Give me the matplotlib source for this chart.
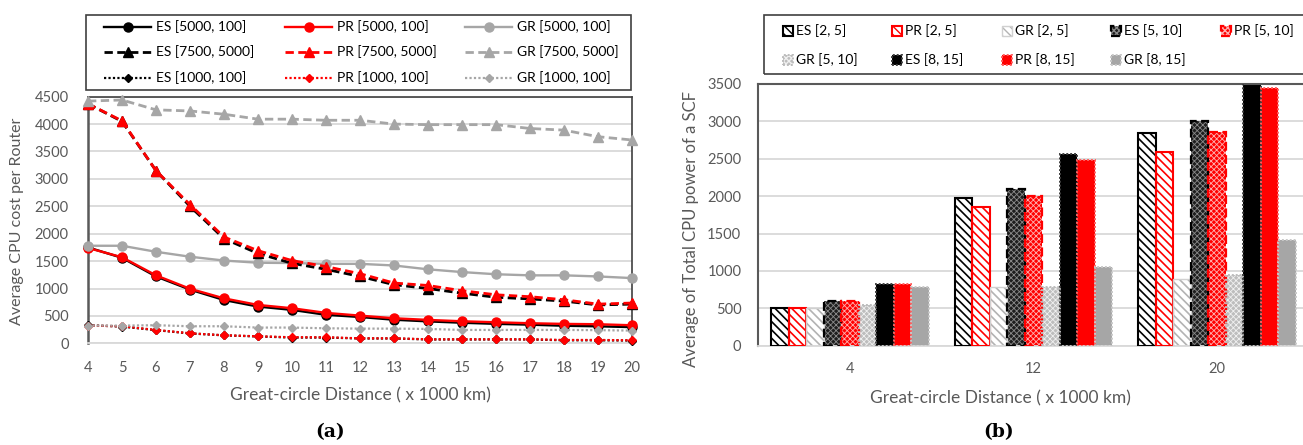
import matplotlib
matplotlib.use("Agg")
import matplotlib.pyplot as plt
from matplotlib.patches import Rectangle

# ---------------- data ----------------
distance = [4, 5, 6, 7, 8, 9, 10, 11, 12, 13, 14, 15, 16, 17, 18, 19, 20]

es_5000_100 = [1750, 1560, 1220, 980, 790, 670, 610, 520, 480, 430, 400, 375, 355, 340, 320, 310, 295]
pr_5000_100 = [1740, 1570, 1240, 995, 820, 700, 640, 555, 505, 457, 427, 402, 384, 366, 354, 348, 329]
gr_5000_100 = [1780, 1780, 1670, 1580, 1510, 1470, 1465, 1450, 1450, 1420, 1350, 1300, 1260, 1240, 1240, 1220, 1190]
es_7500_5000 = [4370, 4050, 3150, 2500, 1910, 1640, 1460, 1350, 1220, 1070, 1000, 915, 840, 810, 770, 700, 715]
pr_7500_5000 = [4370, 4060, 3150, 2530, 1940, 1690, 1510, 1400, 1270, 1100, 1055, 960, 885, 850, 795, 715, 735]
gr_7500_5000 = [4420, 4440, 4260, 4240, 4180, 4090, 4090, 4070, 4070, 4000, 3990, 3990, 3990, 3920, 3890, 3770, 3710]
es_1000_100 = [330, 305, 240, 180, 145, 125, 105, 105, 88, 88, 70, 70, 70, 70, 55, 55, 50]
pr_1000_100 = [323, 311, 244, 183, 146, 128, 110, 110, 91, 91, 73, 73, 73, 73, 61, 61, 55]
gr_1000_100 = [323, 323, 330, 311, 311, 287, 287, 274, 268, 268, 262, 244, 244, 244, 244, 240, 232]

left_labels = ["ES [5000, 100]", "PR [5000, 100]", "GR [5000, 100]",
               "ES [7500, 5000]", "PR [7500, 5000]", "GR [7500, 5000]",
               "ES [1000, 100]", "PR [1000, 100]", "GR [1000, 100]"]

bar_categories = ["4", "12", "20"]
es_2_5 = [500, 1970, 2840]
pr_2_5 = [500, 1860, 2590]
gr_2_5 = [500, 780, 890]
es_5_10 = [600, 2090, 3000]
pr_5_10 = [600, 2000, 2860]
gr_5_10 = [550, 785, 940]
es_8_15 = [820, 2570, 3520]
pr_8_15 = [820, 2480, 3440]
gr_8_15 = [785, 1050, 1420]

right_labels = ["ES [2, 5]", "PR [2, 5]", "GR [2, 5]",
                "ES [5, 10]", "PR [5, 10]", "GR [5, 10]",
                "ES [8, 15]", "PR [8, 15]", "GR [8, 15]"]

# ---------------- figure ----------------
W, H = 1303, 445
plt.rcParams["font.family"] = ["Lato", "DejaVu Sans"]
fig = plt.figure(figsize=(W / 100, H / 100), dpi=100)


def fx(px):
    return px / W


def fy(py):
    return 1 - py / H


TXT = "#595959"
GRID = "#d9d9d9"
BLACK, RED, GRAY = "#000000", "#ff0000", "#a6a6a6"

# ================= left chart =================
ax1 = fig.add_axes([fx(88), fy(343.3), fx(632) - fx(88), (343.3 - 96.7) / H])

dash = (0, (3, 1.6))
dot = (0, (1, 1))
left_series = [
    (es_5000_100, BLACK, "-", "o", 6.5, 1.7),
    (pr_5000_100, RED, "-", "o", 6.5, 1.7),
    (gr_5000_100, GRAY, "-", "o", 6.5, 1.7),
    (es_7500_5000, BLACK, dash, "^", 6.5, 2.0),
    (pr_7500_5000, RED, dash, "^", 6.5, 2.0),
    (gr_7500_5000, GRAY, dash, "^", 6.5, 2.0),
    (es_1000_100, BLACK, dot, "D", 4.5, 1.6),
    (pr_1000_100, RED, dot, "D", 4.5, 1.6),
    (gr_1000_100, GRAY, dot, "D", 4.5, 1.6),
]
left_handles = []
for i, (vals, col, ls, mk, ms, lw) in enumerate(left_series):
    (ln,) = ax1.plot(distance, vals, color=col, linestyle=ls, linewidth=lw,
                     marker=mk, markersize=ms, markerfacecolor=col,
                     markeredgecolor=col, label=left_labels[i], zorder=3 + i * 0.1,
                     clip_on=False)
    left_handles.append(ln)

ax1.set_xlim(4, 20)
ax1.set_ylim(0, 4500)
ax1.set_xticks(distance)
ax1.set_yticks(range(0, 4501, 500))
ax1.grid(axis="y", color=GRID, linewidth=1.3, zorder=0)
ax1.set_axisbelow(True)
ax1.tick_params(length=0, labelsize=10.5, labelcolor=TXT)
ax1.tick_params(axis="y", pad=14)
ax1.tick_params(axis="x", pad=13)
for s in ("top", "right"):
    ax1.spines[s].set_color("#404040")
    ax1.spines[s].set_linewidth(1.2)
ax1.spines["left"].set_color("#595959")
ax1.spines["left"].set_linewidth(1.8)
ax1.spines["bottom"].set_color(GRID)
ax1.spines["bottom"].set_linewidth(1.3)

fig.text(fx(360), fy(395), "Great-circle Distance ( x 1000 km)", ha="center", va="center",
         fontsize=12.5, color=TXT)
fig.text(fx(17), fy(221), "Average CPU cost per Router", ha="center", va="center",
         rotation=90, fontsize=11.5, color=TXT)
fig.text(fx(330), fy(432), "(a)", ha="center", va="center", fontsize=13.5,
         fontweight="bold", family="DejaVu Serif", color="#000000")

# left legend (frame + entries)
fig.patches.append(Rectangle((fx(86), fy(90)), fx(631) - fx(86), (90 - 15) / H,
                             transform=fig.transFigure, fill=False,
                             edgecolor="#404040", linewidth=1.2))
col_x = [104, 285, 465]
row_y = [27, 52, 78]
for i, h in enumerate(left_handles):
    r, c = divmod(i, 3)
    fig.legend([h], [left_labels[i]], loc="center left",
               bbox_to_anchor=(fx(col_x[c]), fy(row_y[r])), frameon=False,
               borderpad=0, borderaxespad=0, handlelength=3.4,
               handletextpad=0.35, fontsize=10, labelcolor="#000000")

# ================= right chart =================
ax2 = fig.add_axes([fx(758), fy(345.7), fx(1309) - fx(758), (345.7 - 84) / H])

stripes = "\\\\\\\\"
right_series = [
    (es_2_5, dict(face="white", hc=BLACK, hatch=stripes, hlw=1.2, edge=BLACK, ls="-", elw=1.5)),
    (pr_2_5, dict(face="white", hc=RED, hatch=stripes, hlw=1.2, edge=RED, ls="-", elw=1.5)),
    (gr_2_5, dict(face="white", hc="#b3b3b3", hatch=stripes, hlw=1.2, edge="#d0d0d0", ls="-", elw=1.0)),
    (es_5_10, dict(face="#1e1e1e", hc="#8a8a8a", hatch="xxxxxx", hlw=0.6, edge=BLACK, ls=(0, (4, 2)), elw=1.6)),
    (pr_5_10, dict(face=RED, hc="#ffb0b0", hatch="xxxxxx", hlw=0.6, edge=RED, ls=(0, (4, 2)), elw=1.6)),
    (gr_5_10, dict(face="#bdbdbd", hc="#f0f0f0", hatch="xxxxxx", hlw=0.6, edge="#bdbdbd", ls=(0, (1, 1)), elw=1.4)),
    (es_8_15, dict(face=BLACK, hc=BLACK, hatch=None, hlw=1.0, edge="#404040", ls=(0, (1, 1)), elw=1.4)),
    (pr_8_15, dict(face=RED, hc=RED, hatch=None, hlw=1.0, edge="#ff6060", ls=(0, (1, 1)), elw=1.4)),
    (gr_8_15, dict(face="#a6a6a6", hc="#a6a6a6", hatch=None, hlw=1.0, edge="#c8c8c8", ls=(0, (1, 1)), elw=1.4)),
]
bw = 17.5 / 183.5
right_handles = []
for i, (vals, st) in enumerate(right_series):
    pos = [c + (i - 4) * bw for c in range(len(bar_categories))]
    plt.rcParams["hatch.linewidth"] = st["hlw"]
    b = ax2.bar(pos, vals, bw, color=st["face"], edgecolor=st["hc"], hatch=st["hatch"],
                linewidth=0, zorder=2, label=right_labels[i])
    be = ax2.bar(pos, vals, bw, facecolor="none", edgecolor=st["edge"], linestyle="-",
                 linewidth=st["elw"], zorder=3)
    for p in be.patches:
        p.set_linestyle(st["ls"])
    right_handles.append((b, be))

ax2.set_xlim(-0.5, 2.5)
ax2.set_ylim(0, 3500)
ax2.set_xticks(range(len(bar_categories)), bar_categories)
ax2.set_yticks(range(0, 3501, 500))
ax2.grid(axis="y", color=GRID, linewidth=1.3, zorder=0)
ax2.set_axisbelow(True)
ax2.tick_params(length=0, labelsize=10.5, labelcolor=TXT)
ax2.tick_params(axis="y", pad=12)
ax2.tick_params(axis="x", pad=12)
ax2.spines["top"].set_color("#595959")
ax2.spines["top"].set_linewidth(1.5)
ax2.spines["left"].set_color("#595959")
ax2.spines["left"].set_linewidth(1.5)
ax2.spines["right"].set_color("#595959")
ax2.spines["bottom"].set_color(GRID)
ax2.spines["bottom"].set_linewidth(1.3)

fig.text(fx(1000), fy(398), "Great-circle Distance ( x 1000 km)", ha="center", va="center",
         fontsize=12.5, color=TXT)
fig.text(fx(691), fy(229), "Average of Total CPU power of a SCF", ha="center", va="center",
         rotation=90, fontsize=12, color=TXT)
fig.text(fx(999), fy(432), "(b)", ha="center", va="center", fontsize=13.5,
         fontweight="bold", family="DejaVu Serif", color="#000000")

fig.patches.append(Rectangle((fx(764), fy(74)), fx(1320) - fx(764), (74 - 15) / H,
                             transform=fig.transFigure, fill=False,
                             edgecolor="#404040", linewidth=1.2))
rcol_x = [783, 892, 1002, 1111, 1221]
rrow_y = [31, 60]
for i, h in enumerate(right_handles):
    r, c = divmod(i, 5)
    fig.legend([h], [right_labels[i]], loc="center left",
               bbox_to_anchor=(fx(rcol_x[c]), fy(rrow_y[r])), frameon=False,
               borderpad=0, borderaxespad=0, handlelength=0.75, handleheight=0.75,
               handletextpad=0.2, fontsize=10, labelcolor="#000000")

fig.savefig("out.png", dpi=100)
